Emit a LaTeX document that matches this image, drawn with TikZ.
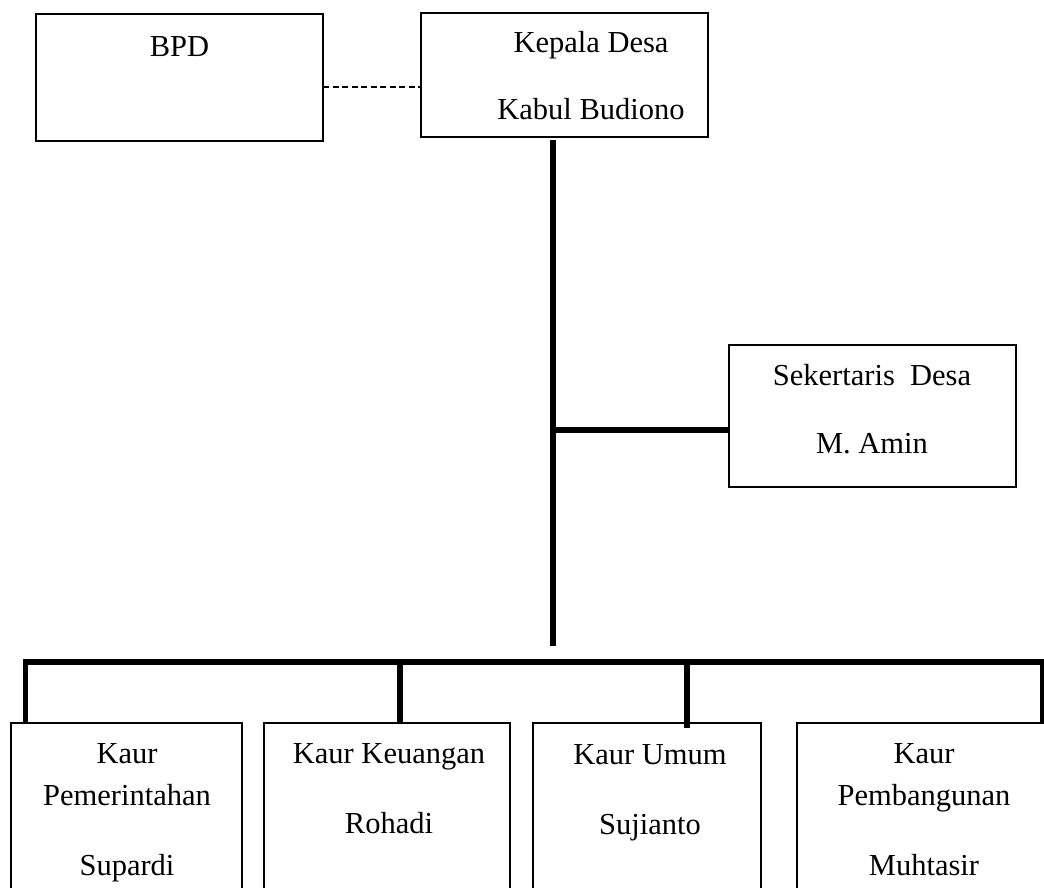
\documentclass[tikz,border=0pt]{standalone}
\usepackage{fontspec}
\setmainfont{Liberation Serif}
\begin{document}
\begin{tikzpicture}[x=1pt,y=-1pt,
  orgbox/.style={draw, rectangle, inner sep=0pt, outer sep=0pt, line width=2pt},
  kaurbox/.style={orgbox, line width=1.6pt, minimum height=220pt},
  lbl/.style={anchor=base, inner sep=0pt, font=\fontsize{30.5}{36}\selectfont},
  thickline/.style={line width=5.5pt},
  dashline/.style={line width=1.5pt, dash pattern=on 6pt off 3.5pt}]
\useasboundingbox (0,0) rectangle (1044,888);
\clip (0,0) rectangle (1044,888);
\fill[white] (0,0) rectangle (1044,888);

% boxes
\node[orgbox, line width=2.5pt, minimum width=287pt, minimum height=127pt] (bpd) at (179.5,77.5) {};
\node[orgbox, minimum width=287pt, minimum height=124pt] (kepala) at (564.5,75) {};
\node[orgbox, minimum width=287pt, minimum height=142pt] (sek) at (872.5,416) {};
\node[kaurbox, minimum width=231pt] (k1) at (126.5,833) {};
\node[kaurbox, minimum width=246pt] (k2) at (387,833) {};
\node[kaurbox, minimum width=228pt] (k3) at (647,833) {};
\node[kaurbox, minimum width=254pt] (k4) at (924,833) {};

% texts
\node[lbl] (tbpd) at (179.5,57) {BPD};
\node[lbl] (tkep1) at (591,53) {Kepala Desa};
\node[lbl] (tkep2) at (591,120) {Kabul Budiono};
\node[lbl] (tsek1) at (872,385) {Sekertaris\ \ Desa};
\node[lbl] (tsek2) at (872,453) {M. Amin};
\node[lbl] (tk1a) at (127,763) {Kaur};
\node[lbl] (tk1b) at (127,805) {Pemerintahan};
\node[lbl] (tk1c) at (127,875) {Supardi};
\node[lbl] (tk2a) at (389,763) {Kaur Keuangan};
\node[lbl] (tk2b) at (389,833) {Rohadi};
\node[lbl] (tk3a) at (650,764) {Kaur Umum};
\node[lbl] (tk3b) at (650,834) {Sujianto};
\node[lbl] (tk4a) at (924,763) {Kaur};
\node[lbl] (tk4b) at (924,805) {Pembangunan};
\node[lbl] (tk4c) at (924,875) {Muhtasir};

% connectors
\draw[dashline] ([yshift=-9.5pt]bpd.east) -- ([yshift=-9.5pt]bpd.east -| kepala.west);
\coordinate (trunkend) at (553,646);
\draw[thickline] ([xshift=-11.5pt,yshift=-3pt]kepala.south) -- (trunkend);
\coordinate (sekj) at (553,430);
\draw[thickline] (sekj) -- (sekj -| sek.west);
\coordinate (barL) at (25.5,662);
\coordinate (barR) at (1050,662);
\draw[thickline] (barL |- k1.north) -- (barL) -- (barR);
\coordinate (d2) at (400,662);
\coordinate (d3) at (687,662);
\coordinate (d4) at (1043,662);
\draw[thickline] (d2) -- (d2 |- k2.north);
\draw[thickline] (d3) -- ([yshift=-5pt]d3 |- k3.north);
\draw[thickline] (d4) -- (d4 |- k4.north);
\end{tikzpicture}
\end{document}
